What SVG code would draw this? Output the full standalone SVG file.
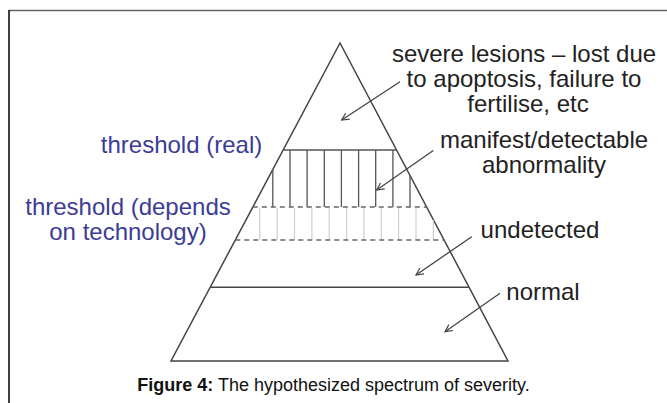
<svg xmlns="http://www.w3.org/2000/svg" width="667" height="403" viewBox="0 0 667 403">
  <defs>
    <style>
      .edge{stroke:#444;stroke-width:1.5;fill:none}
      .band{stroke:#555;stroke-width:1.3;fill:none}
      .dash{stroke:#666;stroke-width:1.3;stroke-dasharray:5 4;fill:none}
      .faint{stroke:#cfcfcf;stroke-width:1.2;fill:none}
      .lbl{font-family:"Liberation Sans",Arial,sans-serif;font-size:24px;fill:#222;text-anchor:middle}
      .thr{font-family:"Liberation Sans",Arial,sans-serif;font-size:24px;fill:#3c3c96;text-anchor:middle}
      .arr{stroke:#444;stroke-width:1.3;fill:none;marker-end:url(#head)}
      .cap{font-family:"Liberation Sans",Arial,sans-serif;font-size:18px;fill:#111;text-anchor:middle}
    </style>
    <marker id="head" viewBox="0 0 10 10" refX="9" refY="5" markerWidth="9" markerHeight="9" markerUnits="userSpaceOnUse" orient="auto">
      <path d="M1,1 L9,5 L1,9" fill="none" stroke="#444" stroke-width="1.3"/>
    </marker>
  </defs>
  <rect width="667" height="403" fill="#fff"/>
  <g id="frame">
    <line x1="9" y1="10.5" x2="667" y2="10.5" stroke="#666" stroke-width="1.5"/>
    <line x1="9" y1="10" x2="9" y2="403" stroke="#000" stroke-width="1.5"/>
  </g>
  <g id="pyramid">
    <polygon class="edge" points="340,43 171,361 508,361"/>
    <line class="band" x1="283.1" y1="150" x2="396.5" y2="150"/>
    <g id="real-band">
      <line class="band" x1="272.8" y1="169.5" x2="272.8" y2="207"/>
      <line class="band" x1="290" y1="150" x2="290" y2="207"/>
      <line class="band" x1="307.1" y1="150" x2="307.1" y2="207"/>
      <line class="band" x1="324.3" y1="150" x2="324.3" y2="207"/>
      <line class="band" x1="341.4" y1="150" x2="341.4" y2="207"/>
      <line class="band" x1="358.6" y1="150" x2="358.6" y2="207"/>
      <line class="band" x1="375.7" y1="150" x2="375.7" y2="207"/>
      <line class="band" x1="392.9" y1="150" x2="392.9" y2="207"/>
      <line class="band" x1="410" y1="175.6" x2="410" y2="207"/>
    </g>
    <line class="dash" x1="252.8" y1="207" x2="426.6" y2="207"/>
    <g id="tech-band">
      <line class="faint" x1="259.8" y1="208" x2="259.8" y2="240"/>
      <line class="faint" x1="277.2" y1="208" x2="277.2" y2="240"/>
      <line class="faint" x1="294.5" y1="208" x2="294.5" y2="240"/>
      <line class="faint" x1="311.9" y1="208" x2="311.9" y2="240"/>
      <line class="faint" x1="329.2" y1="208" x2="329.2" y2="240"/>
      <line class="faint" x1="346.6" y1="208" x2="346.6" y2="240"/>
      <line class="faint" x1="363.9" y1="208" x2="363.9" y2="240"/>
      <line class="faint" x1="381.3" y1="208" x2="381.3" y2="240"/>
      <line class="faint" x1="398.6" y1="208" x2="398.6" y2="240"/>
      <line class="faint" x1="416" y1="208" x2="416" y2="240"/>
      <line class="faint" x1="433.3" y1="220" x2="433.3" y2="240"/>
    </g>
    <line class="dash" x1="235.3" y1="240" x2="444" y2="240"/>
    <line class="edge" x1="210.3" y1="287.3" x2="468.8" y2="287.3"/>
  </g>
  <g id="label-severe">
    <text class="lbl" x="524" y="62">severe lesions – lost due</text>
    <text class="lbl" x="524" y="87">to apoptosis, failure to</text>
    <text class="lbl" x="528" y="112">fertilise, etc</text>
  </g>
  <g id="label-manifest">
    <text class="lbl" x="544" y="148">manifest/detectable</text>
    <text class="lbl" x="544" y="173">abnormality</text>
  </g>
  <g id="label-undetected">
    <text class="lbl" x="540" y="237.5">undetected</text>
  </g>
  <g id="label-normal">
    <text class="lbl" x="543" y="300">normal</text>
  </g>
  <g id="label-threshold-real">
    <text class="thr" x="181.5" y="153">threshold (real)</text>
  </g>
  <g id="label-threshold-tech">
    <text class="thr" x="128" y="215">threshold (depends</text>
    <text class="thr" x="128" y="240">on technology)</text>
  </g>
  <g id="connectors">
    <path class="arr" d="M400,81.7 L341.7,120"/>
    <path class="arr" d="M433.3,150.5 L376.7,190"/>
    <path class="arr" d="M471.7,236.7 L416,275"/>
    <path class="arr" d="M500,293.3 L445,331.7"/>
  </g>
  <g id="caption">
    <text class="cap" x="333.5" y="391"><tspan font-weight="bold">Figure 4:</tspan> The hypothesized spectrum of severity.</text>
  </g>
</svg>
